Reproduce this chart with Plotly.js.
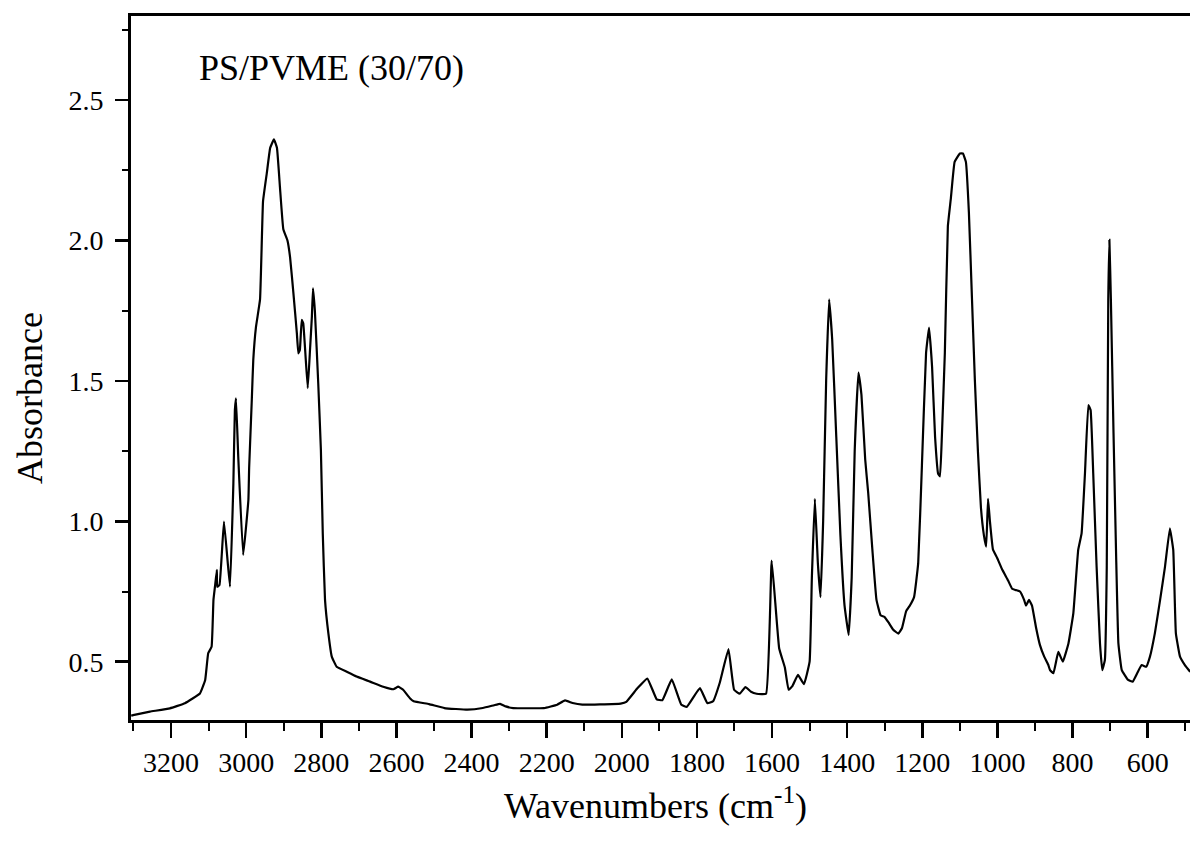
<!DOCTYPE html>
<html>
<head>
<meta charset="utf-8">
<script src="https://cdn.plot.ly/plotly-3.0.1.min.js"></script>
<style>
  html, body { margin: 0; padding: 0; background: #ffffff; }
  #chart { width: 1190px; height: 844px; }
</style>
</head>
<body>
<div id="chart"></div>
<script>
// FTIR absorbance spectrum of a PS/PVME (30/70) blend
const wavenumber = [
  3306, 3301, 3256, 3203, 3163, 3123, 3109, 3101, 3092, 3087, 3083, 3078, 3077, 3071, 3059,
  3043, 3034, 3030, 3027, 3021, 3008, 2994, 2992, 2985, 2981, 2974, 2963, 2955, 2945, 2936,
  2926, 2918, 2910, 2901, 2890, 2883, 2874, 2865, 2861, 2857, 2852, 2848, 2836, 2830, 2825,
  2822, 2817, 2808, 2801, 2796, 2790, 2781, 2772, 2759, 2732, 2706, 2670, 2635, 2608, 2595,
  2582, 2564, 2554, 2513, 2472, 2411, 2370, 2340, 2324, 2309, 2289, 2207, 2172, 2151, 2131,
  2105, 2058, 2003, 1988, 1958, 1932, 1907, 1892, 1867, 1842, 1827, 1792, 1772, 1757, 1739,
  1716, 1701, 1686, 1671, 1656, 1641, 1616, 1601, 1581, 1566, 1556, 1546, 1531, 1515, 1500,
  1494, 1486, 1478, 1471, 1464, 1456, 1448, 1440, 1429, 1418, 1407, 1396, 1388, 1380, 1370,
  1362, 1352, 1344, 1333, 1322, 1311, 1301, 1290, 1278, 1264, 1254, 1243, 1233, 1222, 1211,
  1201, 1190, 1182, 1174, 1166, 1158, 1153, 1148, 1140, 1132, 1124, 1114, 1100, 1092, 1084,
  1076, 1068, 1060, 1052, 1044, 1036, 1030, 1025, 1020, 1012, 1001, 988, 972, 961, 951,
  940, 929, 924, 916, 908, 897, 887, 876, 865, 860, 851, 838, 826, 811, 798,
  785, 776, 767, 758, 752, 745, 736, 727, 721, 714, 709, 705, 702, 698, 691,
  684, 678, 669, 652, 640, 628, 616, 604, 594, 581, 567, 554, 541, 532, 525,
  514, 501, 487
];
const absorbance = [
  0.308, 0.31, 0.322, 0.334, 0.352, 0.387, 0.435, 0.53, 0.553, 0.72, 0.767, 0.827, 0.767, 0.773, 0.999,
  0.767, 1.135, 1.396, 1.438, 1.23, 0.88, 1.076, 1.19, 1.43, 1.574, 1.69, 1.79, 2.14, 2.24, 2.33,
  2.36, 2.33, 2.19, 2.04, 2.0, 1.94, 1.81, 1.67, 1.598, 1.61, 1.717, 1.705, 1.474, 1.61, 1.729,
  1.83, 1.75, 1.49, 1.254, 0.957, 0.72, 0.60, 0.518, 0.482, 0.464, 0.447, 0.429, 0.411, 0.402, 0.411,
  0.40, 0.37, 0.359, 0.349, 0.335, 0.329, 0.335, 0.345, 0.35, 0.341, 0.335, 0.335, 0.347, 0.362, 0.353,
  0.347, 0.348, 0.351, 0.357, 0.406, 0.44, 0.366, 0.363, 0.437, 0.348, 0.339, 0.406, 0.352, 0.359, 0.426,
  0.545, 0.40, 0.386, 0.41, 0.393, 0.386, 0.386, 0.86, 0.547, 0.48, 0.40, 0.413, 0.453, 0.42, 0.5,
  0.8, 1.08, 0.85, 0.73, 1.0, 1.5, 1.79, 1.65, 1.3, 0.95, 0.7, 0.595, 0.8, 1.25, 1.53,
  1.45, 1.22, 1.1, 0.9, 0.72, 0.665, 0.66, 0.64, 0.615, 0.60, 0.62, 0.68, 0.70, 0.73, 0.85,
  1.2, 1.6, 1.69, 1.55, 1.3, 1.17, 1.16, 1.3, 1.6, 2.05, 2.15, 2.28, 2.31, 2.31, 2.28,
  2.1, 1.8, 1.5, 1.25, 1.05, 0.95, 0.91, 1.08, 1.0, 0.9, 0.87, 0.83, 0.79, 0.76, 0.755,
  0.75, 0.72, 0.70, 0.72, 0.70, 0.62, 0.56, 0.52, 0.49, 0.47, 0.459, 0.535, 0.50, 0.565, 0.672,
  0.898, 0.957, 1.171, 1.414, 1.396, 1.17, 0.838, 0.565, 0.47, 0.506, 0.838, 1.788, 2.002, 1.788, 1.314,
  0.874, 0.565, 0.47, 0.435, 0.429, 0.459, 0.488, 0.482, 0.518, 0.601, 0.72, 0.838, 0.975, 0.898, 0.601,
  0.518, 0.488, 0.464
];

const sampleLabel = 'PS/PVME (30/70)';
const xTitle = 'Wavenumbers (cm<sup>-1</sup>)';
const yTitle = 'Absorbance';

const serif = 'Liberation Serif, Times New Roman, serif';

// plot box in pixels
const W = 1190, H = 844;
const box = { l: 131, r: 0, t: 16, b: 124 };
const pw = W - box.l - box.r, ph = H - box.t - box.b;
const px2paperX = p => (p - box.l) / pw;
const px2paperY = p => 1 - (p - box.t) / ph;

const trace = {
  x: wavenumber,
  y: absorbance,
  type: 'scatter',
  mode: 'lines',
  line: { color: '#000000', width: 2.2, shape: 'spline', smoothing: 0.3 },
  hoverinfo: 'x+y'
};

const axisCommon = {
  showgrid: false,
  zeroline: false,
  showline: true,
  linecolor: '#000000',
  linewidth: 3,
  ticks: 'outside',
  tickcolor: '#000000',
  tickwidth: 2.5,
  tickfont: { family: serif, size: 28, color: '#000000' }
};

const layout = {
  width: W,
  height: H,
  margin: box,
  paper_bgcolor: '#ffffff',
  plot_bgcolor: '#ffffff',
  showlegend: false,
  xaxis: Object.assign({}, axisCommon, {
    range: [3306.5, 487.4],
    tickmode: 'linear',
    tick0: 0,
    dtick: 200,
    ticklen: 15,
    mirror: true,
    minor: { dtick: 100, ticks: 'outside', ticklen: 8, tickwidth: 2, tickcolor: '#000000', showgrid: false }
  }),
  yaxis: Object.assign({}, axisCommon, {
    range: [0.2924, 2.7995],
    tickmode: 'linear',
    tick0: 0.5,
    dtick: 0.5,
    tickformat: '.1f',
    ticklen: 13,
    ticklabelstandoff: 6,
    mirror: false,
    minor: { dtick: 0.25, ticks: 'outside', ticklen: 6, tickwidth: 2, tickcolor: '#000000', showgrid: false }
  }),
  annotations: [
    {
      text: sampleLabel,
      xref: 'paper', yref: 'paper',
      x: px2paperX(197), y: px2paperY(68),
      xanchor: 'left', yanchor: 'middle',
      showarrow: false,
      font: { family: serif, size: 36, color: '#000000' }
    },
    {
      text: yTitle,
      xref: 'paper', yref: 'paper',
      x: px2paperX(30), y: px2paperY(398),
      xanchor: 'center', yanchor: 'middle',
      textangle: -90,
      showarrow: false,
      font: { family: serif, size: 36, color: '#000000' }
    },
    {
      text: xTitle,
      xref: 'paper', yref: 'paper',
      x: px2paperX(655), y: px2paperY(803),
      xanchor: 'center', yanchor: 'middle',
      showarrow: false,
      font: { family: serif, size: 36, color: '#000000' }
    }
  ]
};

Plotly.newPlot('chart', [trace], layout, { displayModeBar: false, staticPlot: true });
</script>
</body>
</html>
